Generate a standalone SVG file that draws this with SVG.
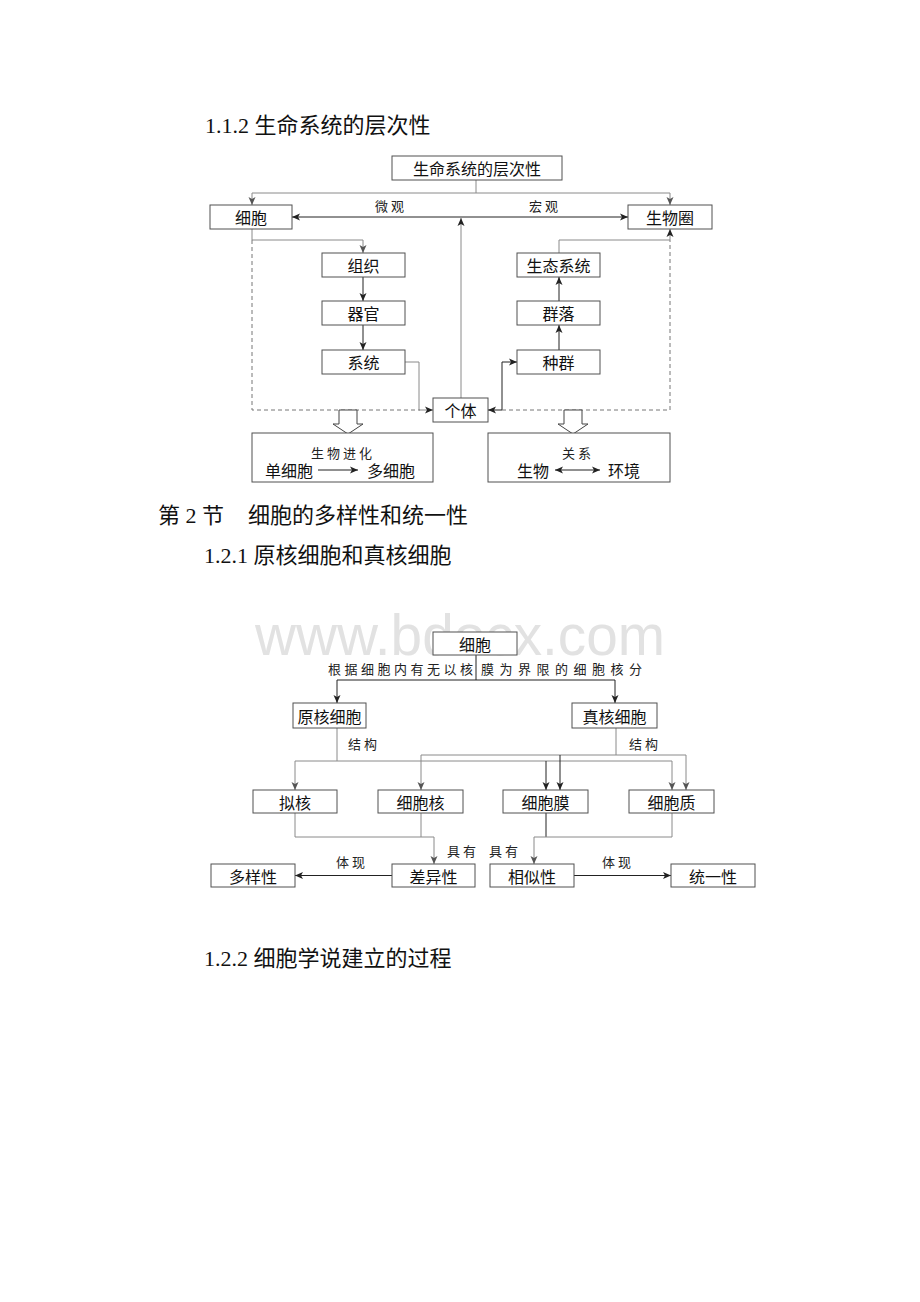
<svg xmlns="http://www.w3.org/2000/svg" width="920" height="1302" viewBox="0 0 920 1302">
<style>
.bg{fill:#fff}
.box{fill:#fff;stroke:#505050;stroke-width:1}
.lbl{font-family:"Noto Sans CJK SC","Liberation Sans",sans-serif;font-size:16px;fill:#111;text-anchor:middle;dominant-baseline:central}
.sm{font-family:"Noto Sans CJK SC","Liberation Sans",sans-serif;font-size:13px;fill:#222;text-anchor:middle;dominant-baseline:central;letter-spacing:3px}
.hd{font-family:"Liberation Serif","Noto Sans CJK SC",serif;font-size:22px;fill:#111;dominant-baseline:central}
.g{fill:none;stroke:#8a8a8a;stroke-width:1}
.k{fill:none;stroke:#222;stroke-width:1}
.d{fill:none;stroke:#777;stroke-width:1;stroke-dasharray:4 3}
.wm{font-family:"Liberation Sans",sans-serif;font-size:58px;fill:#e2e2e2}
.blk{fill:#fff;stroke:#444;stroke-width:1}
</style>
<defs>
<marker id="ak" viewBox="0 0 8 8" refX="8" refY="4" markerWidth="8" markerHeight="8" orient="auto-start-reverse" markerUnits="userSpaceOnUse"><path d="M0,0.5 L8,4 L0,7.5 L2,4 z" fill="#222"/></marker>
<marker id="ag" viewBox="0 0 8 8" refX="8" refY="4" markerWidth="8" markerHeight="8" orient="auto-start-reverse" markerUnits="userSpaceOnUse"><path d="M0,0.5 L8,4 L0,7.5 L2,4 z" fill="#555"/></marker>
</defs>
<rect class="bg" x="0" y="0" width="920" height="1302"/>
<text class="wm" x="255" y="655" textLength="410" lengthAdjust="spacingAndGlyphs">www.bdocx.com</text>

<g id="headings">
<text class="hd" x="205" y="125">1.1.2 生命系统的层次性</text>
<text class="hd" x="158" y="515">第 2 节</text>
<text class="hd" x="248" y="515">细胞的多样性和统一性</text>
<text class="hd" x="204" y="555">1.2.1 原核细胞和真核细胞</text>
<text class="hd" x="204" y="958">1.2.2 细胞学说建立的过程</text>
</g>

<g id="connectors">
<!-- top diagram -->
<path class="g" d="M476,180 V193"/>
<path class="g" d="M476,193 H252 V205" marker-end="url(#ag)"/>
<path class="g" d="M476,193 H670 V205" marker-end="url(#ag)"/>
<path class="k" d="M292,217 H628" marker-start="url(#ak)" marker-end="url(#ak)"/>
<path class="g" d="M252,229 V240 H363 V253" marker-end="url(#ag)"/>
<path class="d" d="M252,240 V410 H420"/>
<path class="k" d="M363,277 V301" marker-end="url(#ak)"/>
<path class="k" d="M363,325 V350" marker-end="url(#ak)"/>
<path class="g" d="M405,362 H419 V410 H433" marker-end="url(#ak)"/>
<path class="g" d="M461,398 V218" marker-end="url(#ak)"/>
<path class="k" d="M517,362 H502 V410 H488" marker-start="url(#ak)" marker-end="url(#ak)"/>
<path class="d" d="M502,410 H670 V240"/>
<path class="g" d="M559,253 V240 H670 V229" marker-end="url(#ak)"/>
<path class="k" d="M559,350 V325" marker-end="url(#ak)"/>
<path class="k" d="M559,301 V277" marker-end="url(#ak)"/>
<polygon class="blk" points="339,410 357,410 357,424 363,424 348,434 333,424 339,424"/>
<polygon class="blk" points="564,410 582,410 582,424 588,424 573,434 558,424 564,424"/>
<!-- bottom diagram -->
<path class="k" d="M476,655 V680"/>
<path class="k" d="M476,680 H337 V703" marker-end="url(#ak)"/>
<path class="k" d="M476,680 H615 V703" marker-end="url(#ak)"/>
<path class="g" d="M337,728 V761"/>
<path class="g" d="M337,761 H295 V790" marker-end="url(#ag)"/>
<path class="g" d="M337,761 H672 V790" marker-end="url(#ag)"/>
<path class="k" d="M546,761 V790" marker-end="url(#ak)"/>
<path class="g" d="M616,728 V755"/>
<path class="g" d="M616,755 H421 V790" marker-end="url(#ag)"/>
<path class="g" d="M616,755 H686 V790" marker-end="url(#ag)"/>
<path class="k" d="M560,755 V790" marker-end="url(#ak)"/>
<path class="g" d="M295,813 V837 H434 V864" marker-end="url(#ag)"/>
<path class="g" d="M421,813 V837"/>
<path class="k" d="M546,813 V837"/>
<path class="g" d="M672,813 V837 H534 V864" marker-end="url(#ag)"/>
<path class="k" d="M392,875.5 H295" marker-end="url(#ak)"/>
<path class="k" d="M574,875.5 H671" marker-end="url(#ak)"/>
</g>

<g id="edge-labels">
<text class="sm" x="391" y="205">微观</text>
<text class="sm" x="545" y="205">宏观</text>
<text class="sm" x="364" y="743">结构</text>
<text class="sm" x="645" y="743">结构</text>
<text class="sm" x="352" y="861">体现</text>
<text class="sm" x="618" y="861">体现</text>
<text class="sm" x="463" y="850">具有</text>
<text class="sm" x="505" y="850">具有</text>
<text class="sm" x="328" y="668" style="text-anchor:start;letter-spacing:0" textLength="145" lengthAdjust="spacing">根据细胞内有无以核</text>
<text class="sm" x="481" y="668" style="text-anchor:start;letter-spacing:0" textLength="161" lengthAdjust="spacing">膜为界限的细胞核分</text>
</g>

<g id="n-title"><rect class="box" x="392" y="156" width="170" height="24"/><text class="lbl" x="477" y="168">生命系统的层次性</text></g>
<g id="n-xibao"><rect class="box" x="210" y="205" width="82" height="24"/><text class="lbl" x="251" y="217">细胞</text></g>
<g id="n-shengwuquan"><rect class="box" x="628" y="205" width="84" height="24"/><text class="lbl" x="670" y="217">生物圈</text></g>
<g id="n-zuzhi"><rect class="box" x="322" y="253" width="83" height="24"/><text class="lbl" x="363.5" y="265">组织</text></g>
<g id="n-qiguan"><rect class="box" x="322" y="301" width="83" height="24"/><text class="lbl" x="363.5" y="313">器官</text></g>
<g id="n-xitong"><rect class="box" x="322" y="350" width="83" height="24"/><text class="lbl" x="363.5" y="362">系统</text></g>
<g id="n-geti"><rect class="box" x="433" y="398" width="55" height="24"/><text class="lbl" x="460.5" y="410">个体</text></g>
<g id="n-zhongqun"><rect class="box" x="517" y="350" width="83" height="24"/><text class="lbl" x="558.5" y="362">种群</text></g>
<g id="n-qunluo"><rect class="box" x="517" y="301" width="83" height="24"/><text class="lbl" x="558.5" y="313">群落</text></g>
<g id="n-shengtai"><rect class="box" x="517" y="253" width="83" height="24"/><text class="lbl" x="558.5" y="265">生态系统</text></g>
<g id="n-jinhua"><rect class="box" x="252" y="433" width="181" height="49"/><text class="sm" x="343" y="452">生物进化</text><text class="lbl" x="289" y="470">单细胞</text><path class="k" d="M318,470 H358" marker-end="url(#ak)"/><text class="lbl" x="391" y="470">多细胞</text></g>
<g id="n-guanxi"><rect class="box" x="488" y="433" width="182" height="49"/><text class="sm" x="578" y="452">关系</text><text class="lbl" x="533" y="470">生物</text><path class="k" d="M555,470 H600" marker-start="url(#ak)" marker-end="url(#ak)"/><text class="lbl" x="624" y="470">环境</text></g>

<g id="m-xibao"><rect class="box" x="433" y="632" width="84" height="23"/><text class="lbl" x="475" y="643.5">细胞</text></g>
<g id="m-yuanhe"><rect class="box" x="293" y="703" width="73" height="25"/><text class="lbl" x="329.5" y="715.5">原核细胞</text></g>
<g id="m-zhenhe"><rect class="box" x="572" y="703" width="85" height="25"/><text class="lbl" x="614.5" y="715.5">真核细胞</text></g>
<g id="m-nihe"><rect class="box" x="253" y="790" width="84" height="23"/><text class="lbl" x="295" y="801.5">拟核</text></g>
<g id="m-xibaohe"><rect class="box" x="378" y="790" width="85" height="23"/><text class="lbl" x="420.5" y="801.5">细胞核</text></g>
<g id="m-xibaomo"><rect class="box" x="503" y="790" width="85" height="23"/><text class="lbl" x="545.5" y="801.5">细胞膜</text></g>
<g id="m-xibaozhi"><rect class="box" x="629" y="790" width="85" height="23"/><text class="lbl" x="671.5" y="801.5">细胞质</text></g>
<g id="m-duoyang"><rect class="box" x="211" y="864" width="84" height="23"/><text class="lbl" x="253" y="875.5">多样性</text></g>
<g id="m-chayi"><rect class="box" x="392" y="864" width="83" height="23"/><text class="lbl" x="433.5" y="875.5">差异性</text></g>
<g id="m-xiangsi"><rect class="box" x="490" y="864" width="84" height="23"/><text class="lbl" x="532" y="875.5">相似性</text></g>
<g id="m-tongyi"><rect class="box" x="671" y="864" width="84" height="23"/><text class="lbl" x="713" y="875.5">统一性</text></g>
</svg>
